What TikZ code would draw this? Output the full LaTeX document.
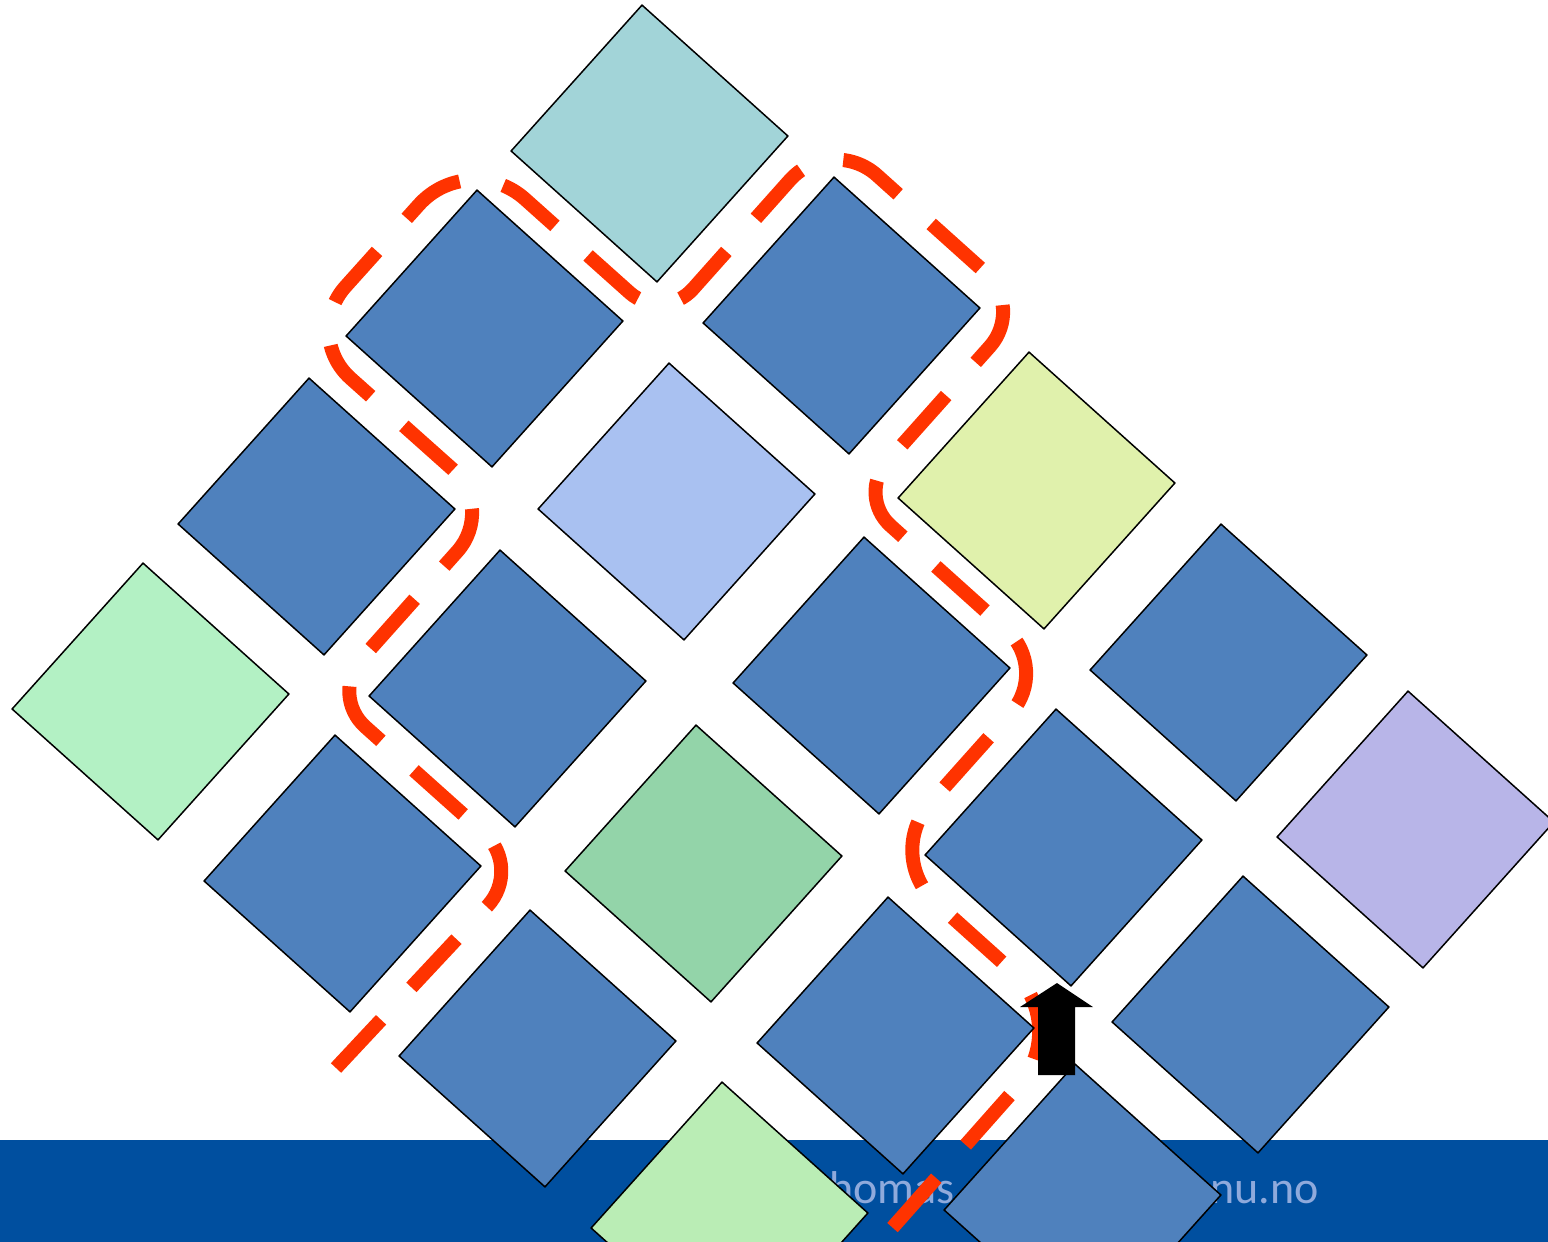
\documentclass[tikz,border=0pt]{standalone}
\usepackage{fontspec}
\usetikzlibrary{calc}
\setmainfont{Carlito}
\definecolor{barblue}{RGB}{0,79,159}
\definecolor{mailgray}{RGB}{143,170,220}
\definecolor{tileblue}{RGB}{79,129,189}
\definecolor{tileteal}{RGB}{162,212,216}
\definecolor{tileperi}{RGB}{169,193,241}
\definecolor{tileyellow}{RGB}{224,241,172}
\definecolor{tilemint}{RGB}{179,241,196}
\definecolor{tilegreen}{RGB}{147,212,169}
\definecolor{tilepurple}{RGB}{184,181,232}
\definecolor{tilelgreen}{RGB}{186,237,181}
\definecolor{routered}{RGB}{255,51,0}
% rounded turn at vertex #2 (from #1 towards #3), tangent length #4, control offset #5
\newcommand\rturn[5]{-- ($(#2)!#4!(#1)$) .. controls ($(#2)!#5!(#1)$) and ($(#2)!#5!(#3)$) .. ($(#2)!#4!(#3)$)}
\begin{document}
\begin{tikzpicture}[x=0.5pt,y=-0.5pt,
  tile/.style={shape=rectangle, draw=black, line width=0.75pt, minimum size=98pt, inner sep=0pt, rotate=-41.9},
  route/.style={draw=routered, line width=7pt, dash pattern=on 33pt off 22.2pt},
  mail/.style={text=mailgray, font=\fontsize{23pt}{27pt}\selectfont, inner sep=0pt}]
\useasboundingbox (0,0) rectangle (1548,1242);
\fill[barblue] (0,1140) rectangle (1548,1242);
\node[mail, anchor=base east] (mailA) at (955,1203) {thomas};
\node[mail, anchor=base east] (mailB) at (1319,1203) {nu.no};
% route
\coordinate (S) at (336,1068);
\coordinate (J1) at (523,868);
\coordinate (J2) at (329.5,694.75);
\coordinate (J3) at (496,508);
\coordinate (J4) at (302,335);
\coordinate (J5) at (469,149);
\coordinate (J6) at (663,322.5);
\coordinate (J7) at (831,134);
\coordinate (J8) at (1024.5,307.7);
\coordinate (J9) at (857,495.5);
\coordinate (J10) at (1050,669);
\coordinate (J11) at (883.5,855.5);
\coordinate (J12) at (1072,1025);
\coordinate (E) at (862,1262);
\draw[route] (S)
  \rturn{S}{J1}{J2}{26pt}{11.65pt}
  \rturn{J1}{J2}{J3}{24pt}{10.75pt}
  \rturn{J2}{J3}{J4}{29pt}{13pt}
  \rturn{J3}{J4}{J5}{32.5pt}{14.56pt}
  \rturn{J4}{J5}{J6}{37.5pt}{16.8pt}
  \rturn{J5}{J6}{J7}{22.5pt}{10.08pt}
  \rturn{J6}{J7}{J8}{31pt}{13.89pt}
  \rturn{J7}{J8}{J9}{26pt}{11.65pt}
  \rturn{J8}{J9}{J10}{22.5pt}{10.08pt}
  \rturn{J9}{J10}{J11}{29pt}{13pt}
  \rturn{J10}{J11}{J12}{35pt}{15.68pt}
  \rturn{J11}{J12}{E}{40pt}{17.92pt}
  -- (E);
% tiles (centre = top corner + (7.5,138.5))
\node[tile, fill=tileteal]   (t00) at (649.5,143.5) {};
\node[tile, fill=tileblue]   (t01) at (484.5,328.5) {};
\node[tile, fill=tileblue]   (t10) at (841.5,315.5) {};
\node[tile, fill=tileblue]   (t02) at (316.5,516.5) {};
\node[tile, fill=tileperi]   (t11) at (676.5,501.5) {};
\node[tile, fill=tileyellow] (t20) at (1036.5,490.5) {};
\node[tile, fill=tilemint]   (t03) at (150.5,701.5) {};
\node[tile, fill=tileblue]   (t12) at (507.5,688.5) {};
\node[tile, fill=tileblue]   (t21) at (871.5,675.5) {};
\node[tile, fill=tileblue]   (t30) at (1228.5,662.5) {};
\node[tile, fill=tileblue]   (t13) at (342.5,873.5) {};
\node[tile, fill=tilegreen]  (t22) at (703.5,863.5) {};
\node[tile, fill=tileblue]   (t31) at (1063.5,847.5) {};
\node[tile, fill=tilepurple] (t40) at (1415.5,829.5) {};
\node[tile, fill=tileblue]   (t23) at (537.5,1048.5) {};
\node[tile, fill=tileblue]   (t32) at (895.5,1035.5) {};
\node[tile, fill=tileblue]   (t41) at (1250.5,1014.5) {};
\node[tile, fill=tilelgreen] (t33) at (729.5,1220.5) {};
\node[tile, fill=tileblue]   (t42) at (1082.5,1202.5) {};
% arrow
\fill[black] (1057,983) -- (1093,1007) -- (1075,1007) -- (1075,1075) -- (1038,1075) -- (1038,1007) -- (1020,1007) -- cycle;
\end{tikzpicture}
\end{document}
